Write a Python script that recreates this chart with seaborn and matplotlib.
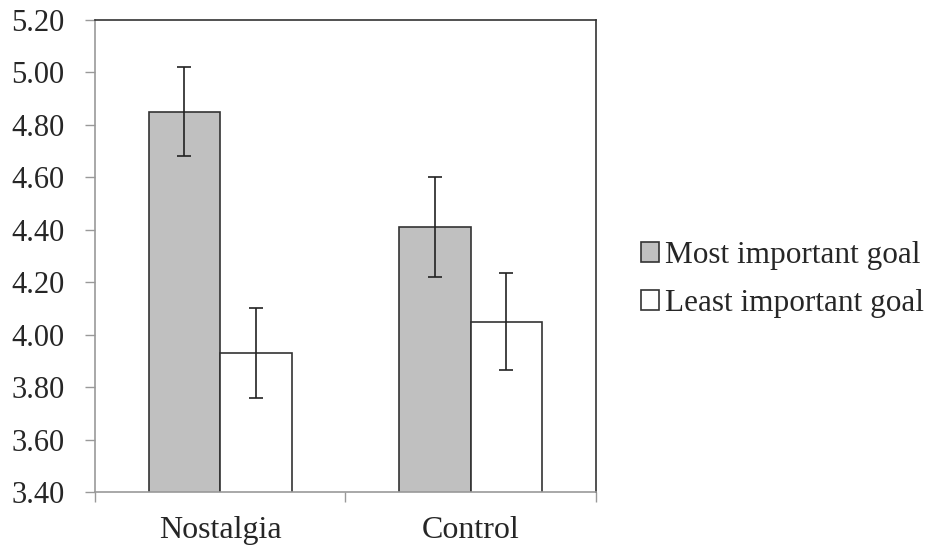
import matplotlib
matplotlib.use('Agg')
import matplotlib.pyplot as plt
import pandas as pd
import seaborn as sns

# Data
conditions = ['Nostalgia', 'Control']
goals = ['Most important goal', 'Least important goal']
most_means = [4.85, 4.41]
least_means = [3.93, 4.05]
most_err = [0.17, 0.19]
least_err = [0.17, 0.185]
y_ticks = [3.40, 3.60, 3.80, 4.00, 4.20, 4.40, 4.60, 4.80, 5.00, 5.20]

df = pd.DataFrame({
    'condition': conditions * 2,
    'goal': [goals[0]] * 2 + [goals[1]] * 2,
    'mean': most_means + least_means,
    'err': most_err + least_err,
})

sns.set_style('white')
plt.rcParams['font.family'] = ['Liberation Serif', 'DejaVu Serif']
fs = 22

fig = plt.figure(figsize=(9.31, 5.51), dpi=100)
ax = fig.add_axes([0.102, 0.107, 0.538, 0.857])

sns.barplot(data=df, x='condition', y='mean', hue='goal', order=conditions,
            hue_order=goals, palette=['#c0c0c0', 'white'], width=0.57,
            errorbar=None, ax=ax, linewidth=1.2, edgecolor='#333333')

# error bars on the bar centres
for cont, g in zip(ax.containers, goals):
    sub = df[df['goal'] == g].set_index('condition').loc[conditions]
    xs = [p.get_x() + p.get_width() / 2 for p in cont.patches]
    ax.errorbar(xs, sub['mean'], yerr=sub['err'], fmt='none', ecolor='#222222',
                elinewidth=1.2, capsize=4.7, capthick=1.2)

ax.set_ylim(3.40, 5.20)
ax.set_xlim(-0.5, 1.5)
ax.set_yticks(y_ticks)
ax.set_yticklabels([f'{v:.2f}' for v in y_ticks])
ax.set_xlabel('')
ax.set_ylabel('')

ax.set_xticks([-0.5, 0.5, 1.5], minor=True)
ax.tick_params(axis='x', which='major', length=0, labelsize=fs + 1, pad=17)
ax.tick_params(axis='x', which='minor', length=7, width=1, color='#999999', direction='out', bottom=True)
ax.tick_params(axis='y', length=7, width=1, color='#999999', direction='out', left=True, labelsize=fs, pad=15)

for side in ['left', 'bottom']:
    ax.spines[side].set_color('#999999')
    ax.spines[side].set_linewidth(1.2)
for side in ['top', 'right']:
    ax.spines[side].set_color('#333333')
    ax.spines[side].set_linewidth(1.2)

ax.legend(loc='center left', bbox_to_anchor=(1.09, 0.45), frameon=False, fontsize=fs + 0.5,
          handlelength=0.58, handleheight=0.58, handletextpad=0.2, labelspacing=0.6,
          borderaxespad=0, borderpad=0)

fig.savefig('out.png', dpi=100)
